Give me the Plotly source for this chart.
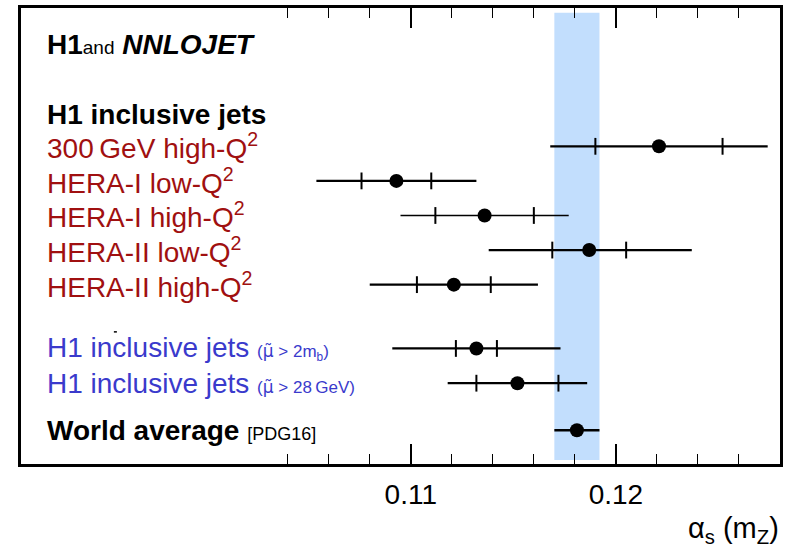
import plotly.graph_objects as go

# ---- data ----
MU = "<span style='font-family:DejaVu Sans'>\u03bc\u0303</span>"
labels = [
    "300\u2009GeV high-Q<sup>2</sup>",
    "HERA-I low-Q<sup>2</sup>",
    "HERA-I high-Q<sup>2</sup>",
    "HERA-II low-Q<sup>2</sup>",
    "HERA-II high-Q<sup>2</sup>",
    "H1 inclusive jets <span style='font-size:17px'>(" + MU + " > 2m<sub>b</sub>)</span>",
    "H1 inclusive jets <span style='font-size:17px'>(" + MU + " > 28\u2009GeV)</span>",
    "<b>World average</b> <span style='font-size:18px'>[PDG16]</span>",
]
alpha_s = [0.1221, 0.1093, 0.1136, 0.1187, 0.1121, 0.1132, 0.1152, 0.1181]
stat_err = [0.0031, 0.0017, 0.0024, 0.0018, 0.0018, 0.0010, 0.0020, None]
tot_err_lo = [0.0053, 0.0039, 0.0041, 0.0049, 0.0041, 0.0041, 0.0034, 0.0011]
tot_err_hi = [0.0053, 0.0039, 0.0041, 0.0050, 0.0041, 0.0041, 0.0034, 0.0011]
label_colors = ["#a01010"] * 5 + ["#3a3acc"] * 2 + ["#000000"]
world_avg = 0.1181
world_avg_err = 0.0011

major_ticks = [0.11, 0.12]
major_labels = ["0.11", "0.12"]
minor_ticks = [0.104, 0.106, 0.108, 0.112, 0.114, 0.116, 0.118, 0.122, 0.124, 0.126]

# ---- layout helpers (row positions on the vertical axis) ----
row_y = [1, 2, 3, 4, 5, 6.845, 7.85, 9.21]
line_w = [2.2, 2.2, 1.4, 2.2, 2.2, 2.2, 2.2, 2.4]

FONT = "Liberation Sans, Arial, Helvetica, sans-serif"

fig = go.Figure()

# world average band
fig.add_shape(type="rect", xref="x", yref="y",
              x0=world_avg - world_avg_err, x1=world_avg + world_avg_err,
              y0=-2.86, y1=10.07, fillcolor="#c2defd", line_width=0, layer="below")

for i in range(len(alpha_s)):
    fig.add_trace(go.Scatter(
        x=[alpha_s[i]], y=[row_y[i]], mode="markers",
        marker=dict(symbol="circle", size=14, color="black"),
        error_x=dict(type="data", symmetric=False,
                     array=[tot_err_hi[i]], arrayminus=[tot_err_lo[i]],
                     thickness=line_w[i], width=0, color="black"),
        showlegend=False, hoverinfo="x"))
    if stat_err[i] is not None:
        fig.add_trace(go.Scatter(
            x=[alpha_s[i] - stat_err[i], alpha_s[i] + stat_err[i]],
            y=[row_y[i], row_y[i]], mode="markers",
            marker=dict(symbol="line-ns", size=12, color="black",
                        line=dict(color="black", width=2)),
            showlegend=False, hoverinfo="skip"))

annotations = []
lx = (45 - 21) / 760
for i, lab in enumerate(labels):
    annotations.append(dict(
        x=lx, xref="paper", y=row_y[i], yref="y", text=lab, showarrow=False,
        xanchor="left", yanchor="middle",
        font=dict(family=FONT, size=28, color=label_colors[i])))

annotations.append(dict(
    x=lx, xref="paper", y=0.08, yref="y",
    text="<b>H1 inclusive jets</b>", showarrow=False,
    xanchor="left", yanchor="middle", font=dict(family=FONT, size=28, color="black")))
annotations.append(dict(
    x=lx, xref="paper", y=-1.95, yref="y",
    text="<b>H1</b><span style='font-size:19px'>and</span> <b><i>NNLOJET</i></b>",
    showarrow=False, xanchor="left", yanchor="middle",
    font=dict(family=FONT, size=28, color="black")))
# axis title
annotations.append(dict(
    x=1.0 + 1 / 760, xref="paper", y=-0.145, yref="paper",
    text="\u03b1<sub>s</sub> (m<sub>Z</sub>)", showarrow=False,
    xanchor="right", yanchor="middle", font=dict(family=FONT, size=29, color="black")))

fig.add_shape(type="line", xref="paper", yref="paper",
              x0=(114 - 21) / 760, x1=(117 - 21) / 760, y0=(464 - 331) / 459,
              y1=(464 - 331) / 459, line=dict(color="black", width=1.5))

fig.update_layout(
    width=788, height=553,
    margin=dict(l=21, r=7, t=5, b=89),
    paper_bgcolor="white", plot_bgcolor="white",
    annotations=annotations,
    xaxis=dict(range=[0.091, 0.128], showgrid=False, zeroline=False,
               showline=True, linecolor="black", linewidth=2.5, mirror="allticks",
               ticks="inside", ticklen=20, tickwidth=1.5, tickcolor="black",
               tickmode="array", tickvals=major_ticks, ticktext=major_labels,
               tickfont=dict(family=FONT, size=28, color="black"),
               ticklabelstandoff=4,
               minor=dict(tickmode="array", tickvals=minor_ticks, ticks="inside",
                          ticklen=10, tickwidth=1, tickcolor="black", showgrid=False)),
    yaxis=dict(range=[10.187, -3.0], showgrid=False, zeroline=False,
               showline=True, linecolor="black", linewidth=2.5, mirror=True,
               showticklabels=False, ticks=""),
)

fig.write_html("out.html")
